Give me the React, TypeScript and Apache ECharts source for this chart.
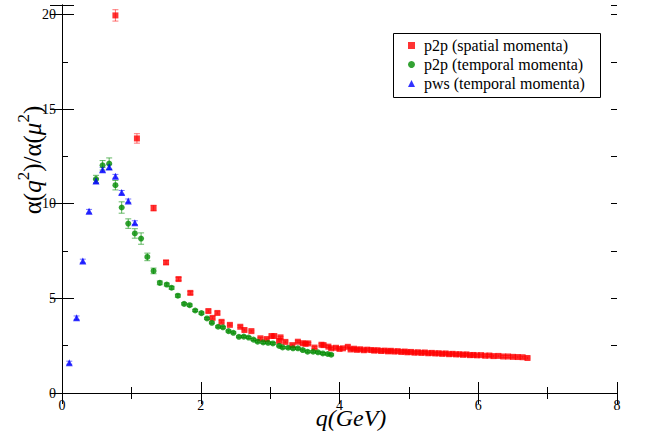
import React, { useEffect, useRef } from "react";
import * as echarts from "echarts";

const FONT = "'Liberation Serif', 'Times New Roman', serif";

// p2p (spatial momenta) - red squares
const redX = [0.77, 1.08, 1.32, 1.50, 1.68, 1.85, 2.11, 2.17, 2.24, 2.30, 2.42, 2.57, 2.63, 2.73, 2.86, 2.95, 3.02, 3.06, 3.13, 3.15, 3.22, 3.32, 3.40, 3.47, 3.51, 3.55, 3.64, 3.74, 3.77, 3.84, 3.88, 3.95, 4.00, 4.05, 4.12, 4.16, 4.21, 4.25, 4.30, 4.35, 4.40, 4.46, 4.50, 4.55, 4.60, 4.65, 4.70, 4.74, 4.79, 4.84, 4.89, 4.94, 4.98, 5.03, 5.08, 5.13, 5.18, 5.23, 5.28, 5.33, 5.38, 5.43, 5.48, 5.53, 5.58, 5.63, 5.68, 5.73, 5.78, 5.83, 5.88, 5.93, 5.98, 6.04, 6.10, 6.16, 6.22, 6.29, 6.36, 6.43, 6.50, 6.57, 6.64, 6.71];
const redY = [19.95, 13.45, 9.77, 6.9, 6.02, 5.29, 4.33, 3.97, 4.23, 3.76, 3.6, 3.5, 3.33, 3.27, 2.89, 2.85, 3.01, 3.01, 2.75, 2.94, 2.7, 2.53, 2.71, 2.63, 2.6, 2.62, 2.4, 2.55, 2.53, 2.45, 2.36, 2.39, 2.33, 2.36, 2.44, 2.3, 2.34, 2.28, 2.31, 2.26, 2.29, 2.27, 2.24, 2.26, 2.22, 2.24, 2.2, 2.23, 2.19, 2.21, 2.17, 2.19, 2.15, 2.17, 2.13, 2.15, 2.12, 2.14, 2.1, 2.12, 2.09, 2.1, 2.07, 2.09, 2.05, 2.07, 2.04, 2.05, 2.02, 2.04, 2.0, 2.01, 1.99, 2.0, 1.97, 1.98, 1.95, 1.96, 1.93, 1.93, 1.91, 1.9, 1.89, 1.85];
const redErr = [0.3, 0.25, 0.15, 0.1, 0.08, 0.08, 0.06, 0.06, 0.06, 0.06, 0.05, 0.05, 0.05, 0.05, 0.05, 0.05, 0.05, 0.05, 0.05, 0.05, 0.05, 0.05, 0.05, 0.05, 0.05, 0.05, 0.05, 0.05, 0.05, 0.05, 0.05, 0.05, 0.05, 0.05, 0.05, 0.05, 0.05, 0.05, 0.05, 0.05, 0.05, 0.05, 0.05, 0.05, 0.05, 0.05, 0.05, 0.05, 0.05, 0.05, 0.05, 0.05, 0.05, 0.05, 0.05, 0.05, 0.05, 0.05, 0.05, 0.05, 0.05, 0.05, 0.05, 0.05, 0.05, 0.05, 0.05, 0.05, 0.05, 0.05, 0.05, 0.05, 0.05, 0.05, 0.05, 0.05, 0.05, 0.05, 0.05, 0.05, 0.05, 0.05, 0.05, 0.05];

// p2p (temporal momenta) - green circles
const greenX = [0.49, 0.585, 0.68, 0.77, 0.86, 0.955, 1.05, 1.14, 1.23, 1.32, 1.41, 1.51, 1.58, 1.67, 1.76, 1.84, 1.92, 2.01, 2.09, 2.16, 2.25, 2.32, 2.40, 2.47, 2.55, 2.62, 2.69, 2.76, 2.82, 2.90, 2.97, 3.04, 3.13, 3.18, 3.26, 3.33, 3.40, 3.47, 3.54, 3.62, 3.69, 3.76, 3.83, 3.88];
const greenY = [11.3, 12.03, 12.12, 10.98, 9.8, 8.95, 8.43, 8.16, 7.19, 6.45, 5.82, 5.73, 5.56, 5.14, 4.71, 4.64, 4.36, 4.22, 3.94, 3.71, 3.5, 3.47, 3.27, 3.18, 2.97, 2.98, 2.93, 2.82, 2.71, 2.67, 2.65, 2.62, 2.49, 2.41, 2.39, 2.36, 2.36, 2.27, 2.18, 2.18, 2.15, 2.09, 2.06, 2.02];
const greenErr = [0.2, 0.25, 0.3, 0.25, 0.3, 0.25, 0.25, 0.3, 0.2, 0.15, 0.1, 0.08, 0.08, 0.08, 0.06, 0.06, 0.06, 0.06, 0.05, 0.05, 0.05, 0.05, 0.05, 0.05, 0.05, 0.05, 0.05, 0.05, 0.05, 0.05, 0.05, 0.05, 0.05, 0.05, 0.05, 0.05, 0.05, 0.05, 0.05, 0.05, 0.05, 0.05, 0.05, 0.05];

// pws (temporal momenta) - blue triangles
const blueX = [0.105, 0.21, 0.30, 0.39, 0.49, 0.585, 0.68, 0.77, 0.86, 0.955, 1.05];
const blueY = [1.6, 3.97, 6.97, 9.6, 11.2, 11.8, 11.94, 11.45, 10.6, 10.15, 9.0];
const blueErr = [0.08, 0.1, 0.1, 0.1, 0.12, 0.12, 0.12, 0.1, 0.1, 0.1, 0.1];

const names = ["p2p (spatial momenta)", "p2p (temporal momenta)", "pws (temporal momenta)"];
const colors = ["#ff0000", "#008b00", "#0000ff"];
const errColors = ["rgba(255,0,0,0.55)", "rgba(0,139,0,0.6)", "rgba(0,0,255,0.55)"];

const xTicks = { min: 0, max: 8, interval: 2 };
const yTicks = { min: 0, max: 20.5, interval: 5 };

function pts(xs: number[], ys: number[]) {
  return xs.map((x, i) => [x, ys[i]]);
}
function errPts(xs: number[], ys: number[], es: number[]) {
  return xs.map((x, i) => [x, ys[i], es[i]]);
}

function errSeries(name: string, data: number[][], color: string) {
  return {
    type: "custom",
    name,
    silent: true,
    z: 1,
    encode: { x: 0, y: 1 },
    data,
    renderItem: (params: any, api: any) => {
      const x = api.value(0);
      const y = api.value(1);
      const e = api.value(2);
      const t = api.coord([x, y + e]);
      const b = api.coord([x, y - e]);
      const w = 3;
      const st = { stroke: color, lineWidth: 1 };
      return {
        type: "group",
        children: [
          { type: "line", shape: { x1: t[0], y1: t[1], x2: b[0], y2: b[1] }, style: st },
          { type: "line", shape: { x1: t[0] - w, y1: t[1], x2: t[0] + w, y2: t[1] }, style: st },
          { type: "line", shape: { x1: b[0] - w, y1: b[1], x2: b[0] + w, y2: b[1] }, style: st },
        ],
      };
    },
  };
}

export default function App() {
  const ref = useRef<HTMLDivElement>(null);
  useEffect(() => {
    if (!ref.current) return;
    const chart = echarts.init(ref.current, null, { renderer: "svg" });
    const axisLine = { show: true, lineStyle: { color: "#000", width: 1 } };
    const labelStyle = { color: "#000", fontFamily: FONT, fontSize: 14 };
    const baseX = {
      type: "value",
      ...xTicks,
      axisLine,
      splitLine: { show: false },
      axisTick: { show: true, inside: true, length: 11, lineStyle: { color: "#000" } },
      minorTick: { show: true, splitNumber: 2, length: 6, lineStyle: { color: "#000" } },
    };
    const baseY = {
      type: "value",
      ...yTicks,
      axisLine,
      splitLine: { show: false },
      axisTick: { show: true, inside: true, length: 12, lineStyle: { color: "#000" } },
    };
    const minorY = {
      type: "value",
      min: 0,
      max: 20.5,
      interval: 2.5,
      axisLine: { show: false },
      splitLine: { show: false },
      axisLabel: { show: false },
      axisTick: { show: true, inside: true, length: 6, lineStyle: { color: "#000" } },
    };
    const option: any = {
      animation: false,
      backgroundColor: "#fff",
      grid: { left: 62, right: 31, top: 5, bottom: 41 },
      xAxis: [
        { ...baseX, position: "bottom", axisLabel: { ...labelStyle, margin: 5 } },
        { ...baseX, position: "top", axisLabel: { show: false } },
      ],
      yAxis: [
        {
          ...baseY,
          position: "left",
          axisLabel: { ...labelStyle, margin: 6, formatter: (v: number) => (v % 5 === 0 ? String(v) : "") },
        },
        { ...baseY, position: "right", axisLabel: { show: false } },
        { ...minorY, position: "left" },
        { ...minorY, position: "right" },
      ],
      legend: {
        orient: "vertical",
        left: 408,
        top: 37,
        itemWidth: 7,
        itemHeight: 7,
        itemGap: 2,
        padding: 0,
        textStyle: { color: "#000", fontFamily: FONT, fontSize: 16, padding: [0, 0, 0, 4], lineHeight: 17 },
        data: [
          { name: names[0], icon: "rect" },
          { name: names[1], icon: "circle" },
          { name: names[2], icon: "triangle" },
        ],
      },
      graphic: [
        {
          type: "rect",
          shape: { x: 393.5, y: 33.5, width: 207, height: 64 },
          style: { fill: "none", stroke: "#000", lineWidth: 1 },
          z: 10,
        },
        {
          type: "text",
          x: 351,
          y: 418,
          style: {
            text: "q(GeV)",
            fontFamily: FONT,
            fontSize: 24,
            fontStyle: "italic",
            fill: "#000",
            align: "center",
            verticalAlign: "middle",
          },
        },
        {
          type: "text",
          x: 30,
          y: 160,
          rotation: Math.PI / 2,
          style: {
            text: "{a|α(}{i|q}{s|2}{a|)/α(}{i|μ}{s|2}{a|)}",
            align: "center",
            verticalAlign: "middle",
            fill: "#000",
            rich: {
              a: { fontFamily: FONT, fontSize: 25, lineHeight: 30, verticalAlign: "bottom" },
              i: { fontFamily: FONT, fontSize: 25, fontStyle: "italic", lineHeight: 30, verticalAlign: "bottom" },
              s: { fontFamily: FONT, fontSize: 17, lineHeight: 30, verticalAlign: "top" },
            },
          },
        },
      ],
      series: [
        errSeries("errR", errPts(redX, redY, redErr), errColors[0]),
        errSeries("errG", errPts(greenX, greenY, greenErr), errColors[1]),
        errSeries("errB", errPts(blueX, blueY, blueErr), errColors[2]),
        {
          type: "scatter",
          name: names[0],
          symbol: "rect",
          symbolSize: 6,
          itemStyle: { color: colors[0] },
          data: pts(redX, redY),
          z: 3,
        },
        {
          type: "scatter",
          name: names[1],
          symbol: "circle",
          symbolSize: 6,
          itemStyle: { color: colors[1] },
          data: pts(greenX, greenY),
          z: 4,
        },
        {
          type: "scatter",
          name: names[2],
          symbol: "triangle",
          symbolSize: 7,
          itemStyle: { color: colors[2] },
          data: pts(blueX, blueY),
          z: 5,
        },
      ],
    };
    chart.setOption(option);
    return () => chart.dispose();
  }, []);
  return <div ref={ref} style={{ width: 648, height: 434, position: "absolute", left: 0, top: 0 }} />;
}
